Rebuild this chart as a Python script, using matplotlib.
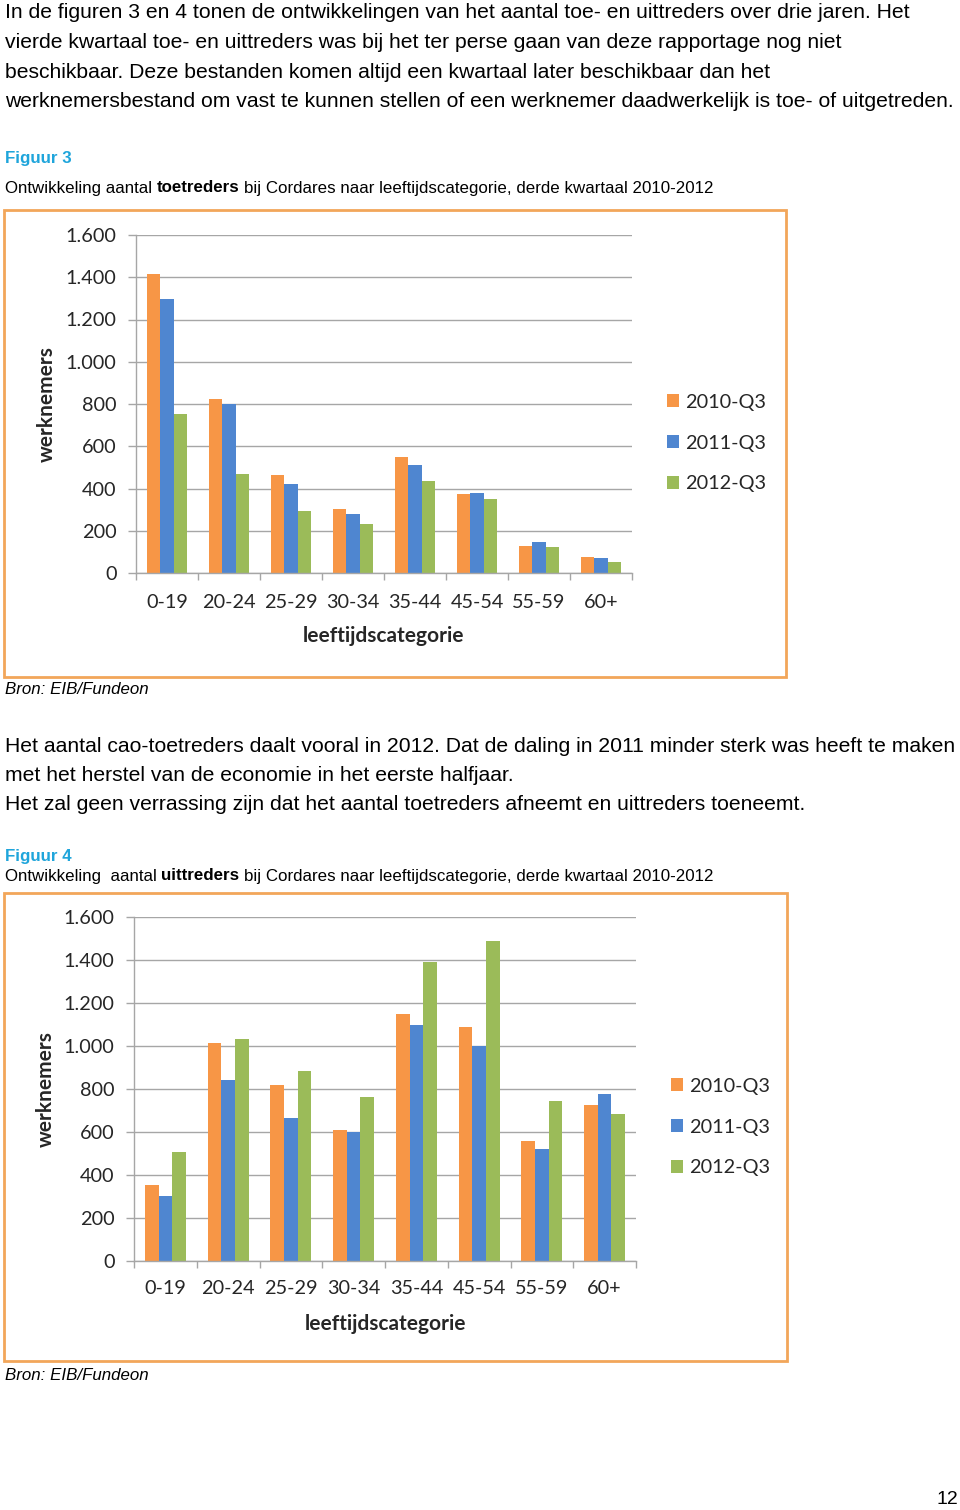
import numpy as np
import matplotlib
matplotlib.use('Agg')
import matplotlib.pyplot as plt
from matplotlib.patches import Rectangle

W, H = 960, 1510

# data
categories = ['0-19', '20-24', '25-29', '30-34', '35-44', '45-54', '55-59', '60+']
series = ['2010-Q3', '2011-Q3', '2012-Q3']
toetreders_2010 = [1414, 823, 466, 305, 551, 376, 128, 77]
toetreders_2011 = [1297, 798, 420, 280, 512, 381, 148, 73]
toetreders_2012 = [754, 471, 295, 234, 436, 351, 123, 54]
uittreders_2010 = [355, 1012, 820, 610, 1148, 1089, 558, 727]
uittreders_2011 = [304, 843, 663, 600, 1100, 998, 519, 775]
uittreders_2012 = [508, 1032, 886, 765, 1390, 1487, 745, 683]
yticks = [0, 200, 400, 600, 800, 1000, 1200, 1400, 1600]

bar_colors = ['#F79646', '#4F86D0', '#9BBB59']
box_color = '#F2A65A'
grid_color = '#A6A6A6'
lab_color = '#262626'
fig_blue = '#1FA5DB'

body_font = ['Liberation Sans', 'DejaVu Sans']
chart_font = ['Lato', 'DejaVu Sans']
chart_size = 14.3

fig = plt.figure(figsize=(W / 100, H / 100), dpi=100)
renderer = fig.canvas.get_renderer()


def fx(x):
    return x / W


def fy(y):
    return 1 - y / H


def rich(x, y, parts, size, color='black'):
    '''
    draw a line of text made of (text, weight, style) pieces
    '''
    space = size * 100 / 72 * 0.278
    for s, w, st in parts:
        t = fig.text(fx(x), fy(y), s, fontsize=size, fontweight=w, fontstyle=st,
                     family=body_font, color=color, va='center', ha='left')
        x = t.get_window_extent(renderer).x1 + space


def plain(x, y, s, size, **kw):
    fig.text(fx(x), fy(y), s, fontsize=size, family=body_font, va='center', ha='left', **kw)


# top paragraph
para = ['In de figuren 3 en 4 tonen de ontwikkelingen van het aantal toe- en uittreders over drie jaren. Het',
        'vierde kwartaal toe- en uittreders was bij het ter perse gaan van deze rapportage nog niet',
        'beschikbaar. Deze bestanden komen altijd een kwartaal later beschikbaar dan het',
        'werknemersbestand om vast te kunnen stellen of een werknemer daadwerkelijk is toe- of uitgetreden.']
for i, line in enumerate(para):
    plain(5, 13 + i * 29.5, line, 15.2)

mid = ['Het aantal cao-toetreders daalt vooral in 2012. Dat de daling in 2011 minder sterk was heeft te maken',
       'met het herstel van de economie in het eerste halfjaar.',
       'Het zal geen verrassing zijn dat het aantal toetreders afneemt en uittreders toeneemt.']
for i, line in enumerate(mid):
    plain(5, 746 + i * 29.5, line, 15.2)


def chart(values, ax_box, legend_xy, xpad, ylab_xy, box, bron_y, fig_y, cap_y, fig_no, word, gap):
    # heading and caption
    fig.text(fx(5), fy(fig_y), 'Figuur %d' % fig_no, fontsize=12.2, fontweight='bold',
             family=body_font, color=fig_blue, va='center', ha='left')
    rich(5, cap_y, [('Ontwikkeling' + gap + 'aantal', 'normal', 'normal'),
                    (word, 'bold', 'normal'),
                    ('bij Cordares naar leeftijdscategorie, derde kwartaal 2010-2012', 'normal', 'normal')], 12.2)

    # orange frame
    x0, y0, x1, y1 = box
    fig.patches.append(Rectangle((fx(x0), fy(y1)), fx(x1 - x0), (y1 - y0) / H, fill=False,
                                 edgecolor=box_color, lw=2, transform=fig.transFigure))
    rich(5, bron_y, [('Bron: EIB/Fundeon', 'normal', 'italic')], 12.2)

    l, t, r, b = ax_box
    ax = fig.add_axes([fx(l), fy(b), fx(r - l), (b - t) / H])
    x = np.arange(len(categories))
    w = 0.217
    handles = []
    for k, vals in enumerate(values):
        h = ax.bar(x + (k - 1) * w, vals, width=w, color=bar_colors[k], zorder=3, label=series[k])
        handles.append(h)

    ax.set_xlim(-0.5, len(categories) - 0.5)
    ax.set_ylim(0, 1600)
    ax.set_yticks(yticks)
    ax.set_yticklabels(['{:,}'.format(v).replace(',', '.') for v in yticks],
                       family=chart_font, fontsize=chart_size, color=lab_color)
    ax.set_xticks(x)
    ax.set_xticklabels(categories, family=chart_font, fontsize=chart_size, color=lab_color)
    ax.set_xticks(np.arange(len(categories) + 1) - 0.5, minor=True)
    ax.tick_params(axis='x', which='major', length=0, pad=xpad)
    ax.tick_params(axis='x', which='minor', length=5, width=1, color=grid_color, direction='out')
    ax.tick_params(axis='y', length=6, width=1, color=grid_color, direction='out', pad=8)
    ax.grid(axis='y', color=grid_color, lw=1, zorder=0)
    for s in ['top', 'right']:
        ax.spines[s].set_visible(False)
    for s in ['left', 'bottom']:
        ax.spines[s].set_color(grid_color)
        ax.spines[s].set_linewidth(1)
        ax.spines[s].set_zorder(4)

    fig.text(fx(ylab_xy[0]), fy(ylab_xy[1]), 'werknemers', rotation=90, fontsize=15,
             fontweight='bold', family=chart_font, color=lab_color, va='center', ha='center')
    fig.text(fx((l + r) / 2), fy(b + 63), 'leeftijdscategorie', fontsize=15,
             fontweight='bold', family=chart_font, color=lab_color, va='center', ha='center')

    lx, ly = legend_xy
    ax.legend(handles=handles, loc='center left', bbox_to_anchor=(fx(lx), fy(ly)),
              bbox_transform=fig.transFigure, frameon=False,
              prop={'family': chart_font, 'size': chart_size},
              handlelength=0.62, handleheight=0.62, handletextpad=0.3, labelspacing=1.2,
              borderpad=0, borderaxespad=0, labelcolor=lab_color)
    return ax


chart([toetreders_2010, toetreders_2011, toetreders_2012],
      (136, 235, 632, 573), (667, 443), 15, (47, 404), (4, 210, 786, 677), 690, 159, 188, 3, 'toetreders', ' ')
chart([uittreders_2010, uittreders_2011, uittreders_2012],
      (134, 917, 636, 1261), (671, 1127), 14, (46, 1089), (4, 893, 787, 1361), 1375, 857, 876, 4, 'uittreders', '  ')

plain(937, 1500, '12', 14)

fig.savefig('out.png', dpi=100)
